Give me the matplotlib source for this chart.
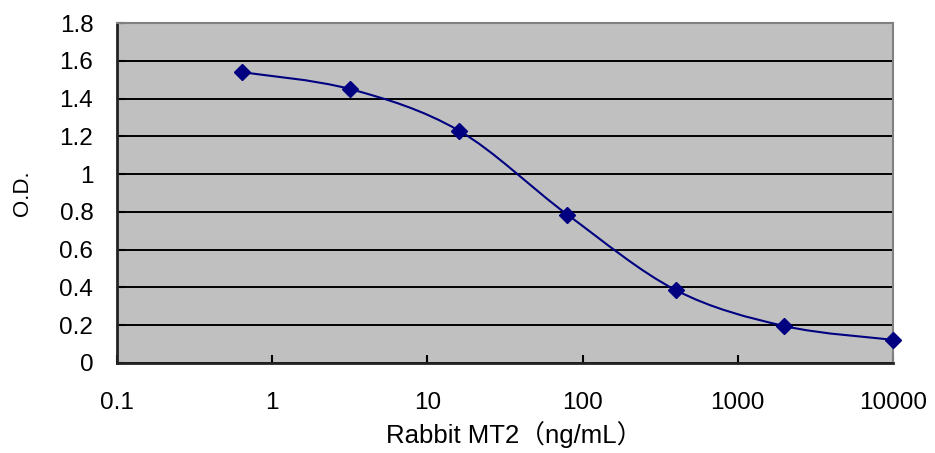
import matplotlib
matplotlib.use("Agg")
import matplotlib.pyplot as plt
import numpy as np
from matplotlib.path import Path
from matplotlib.patches import PathPatch
from matplotlib.transforms import IdentityTransform

plt.rcParams['font.family'] = ['Liberation Sans', 'Noto Sans CJK JP', 'DejaVu Sans']

# concentration (ng/mL) and OD readings
conc = [0.64, 3.2, 16, 80, 400, 2000, 10000]
od = [1.54, 1.45, 1.23, 0.785, 0.385, 0.195, 0.122]
xticks = [0.1, 1, 10, 100, 1000, 10000]
xticklabels = ['0.1', '1', '10', '100', '1000', '10000']
yticks = [0, 0.2, 0.4, 0.6, 0.8, 1, 1.2, 1.4, 1.6, 1.8]
yticklabels = ['0', '0.2', '0.4', '0.6', '0.8', '1', '1.2', '1.4', '1.6', '1.8']

navy = '#000080'

fig = plt.figure(figsize=(9.35, 4.53), dpi=100)
ax = fig.add_axes([0.125, 0.199, 0.830, 0.750])
ax.set_facecolor('#c0c0c0')
ax.set_xscale('log')
ax.set_xlim(0.1, 10000)
ax.set_ylim(0, 1.8)

ax.set_yticks(yticks)
ax.set_yticklabels(yticklabels)
ax.set_xticks(xticks)
ax.set_xticklabels(xticklabels)
ax.minorticks_off()
ax.tick_params(axis='x', direction='in', length=6, width=1.5, pad=21, labelsize=17.5)
ax.tick_params(axis='y', direction='in', length=6, width=1.5, pad=17, labelsize=17.5)
ax.yaxis.grid(True, color='black', linewidth=1.4)
ax.set_axisbelow(True)

for s in ['left', 'bottom']:
    ax.spines[s].set_color('#222222')
    ax.spines[s].set_linewidth(2)
for s in ['top', 'right']:
    ax.spines[s].set_color('#808080')
    ax.spines[s].set_linewidth(1.5)

ax.set_ylabel('O.D.', fontsize=16)
ax.yaxis.set_label_coords(-0.108, 0.5)
ax.set_xlabel('Rabbit MT2（ng/mL）', fontsize=18.5)
ax.xaxis.set_label_coords(0.512, -0.172)

# smoothed line (Excel-style bezier through the points)
pts = ax.transData.transform(np.column_stack([conc, od]))
verts = [pts[0]]
codes = [Path.MOVETO]
n = len(pts)
for i in range(n - 1):
    p0 = pts[i - 1] if i > 0 else pts[i]
    p1 = pts[i]
    p2 = pts[i + 1]
    p3 = pts[i + 2] if i + 2 < n else pts[i + 1]
    c1 = p1 + (p2 - p0) / 6.0
    c2 = p2 - (p3 - p1) / 6.0
    verts += [c1, c2, p2]
    codes += [Path.CURVE4] * 3
patch = PathPatch(Path(verts, codes), transform=IdentityTransform(),
                  facecolor='none', edgecolor=navy, linewidth=1.5, zorder=3)
ax.add_artist(patch)

ax.plot(conc, od, linestyle='none', marker='D', markersize=8,
        color=navy, clip_on=False, zorder=4)

fig.savefig('out.png', dpi=100)
